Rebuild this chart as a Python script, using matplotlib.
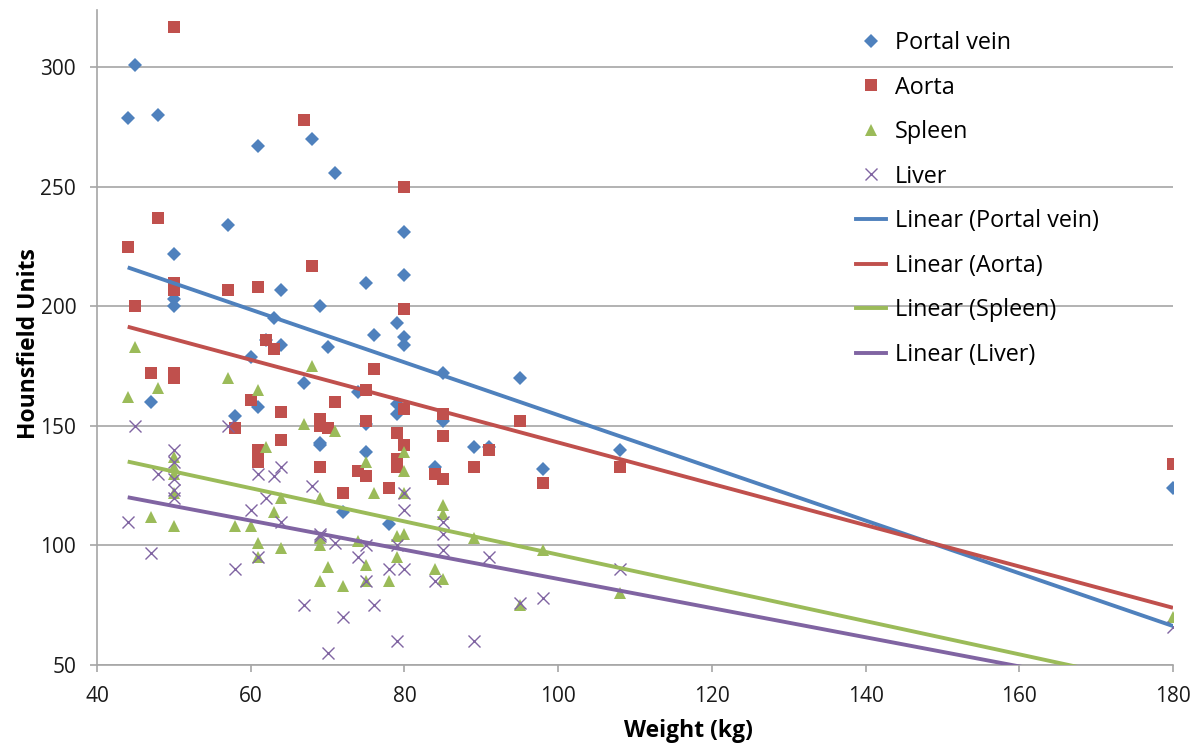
import numpy as np
import matplotlib
matplotlib.use("Agg")
import matplotlib.pyplot as plt
from matplotlib.lines import Line2D

plt.rcParams['font.family'] = ['Open Sans', 'DejaVu Sans']

# ---- data (weight kg, Hounsfield units) ----
portal_x = [44, 45, 48, 47, 50, 50, 50, 57, 58, 60, 61, 61, 62, 63, 64, 64,
            67, 68, 69, 69, 69, 70, 71, 72, 74, 75, 75, 75, 76, 78, 79, 79, 79,
            80, 80, 80, 80, 84, 85, 85, 89, 91, 95, 98, 108, 180]
portal_y = [279, 301, 280, 160, 222, 203, 200, 234, 154, 179, 267, 158, 186, 195, 207, 184,
            168, 270, 200, 143, 142, 183, 256, 114, 164, 210, 139, 151, 188, 109, 193, 159, 155,
            231, 213, 187, 184, 133, 172, 152, 141, 141, 170, 132, 140, 124]

aorta_x = [44, 45, 47, 48, 50, 50, 50, 50, 50, 57, 58, 60, 61, 61, 61, 62, 63, 64, 64,
           67, 68, 69, 69, 69, 70, 71, 72, 74, 75, 75, 75, 76, 78, 79, 79, 79,
           80, 80, 80, 80, 84, 85, 85, 85, 89, 91, 95, 98, 108, 180]
aorta_y = [225, 200, 172, 237, 317, 210, 207, 172, 170, 207, 149, 161, 208, 140, 135, 186, 182, 156, 144,
           278, 217, 153, 150, 133, 149, 160, 122, 131, 165, 152, 129, 174, 124, 147, 136, 133,
           250, 199, 157, 142, 130, 155, 146, 128, 133, 140, 152, 126, 133, 134]

spleen_x = [44, 45, 47, 48, 50, 50, 50, 50, 50, 57, 58, 60, 61, 61, 61, 62, 63, 64, 64,
            67, 68, 69, 69, 69, 69, 70, 71, 72, 74, 75, 75, 75, 76, 78, 79, 79,
            80, 80, 80, 80, 84, 85, 85, 85, 89, 95, 98, 108, 180]
spleen_y = [162, 183, 112, 166, 137, 133, 130, 122, 108, 170, 108, 108, 165, 101, 95, 141, 114, 120, 99,
            151, 175, 120, 103, 100, 85, 91, 148, 83, 102, 135, 92, 85, 122, 85, 104, 95,
            139, 131, 122, 105, 90, 117, 113, 86, 103, 75, 98, 80, 70]

liver_x = [44, 45, 47, 48, 50, 50, 50, 50, 50, 57, 58, 60, 61, 61, 62, 63, 64, 64,
           67, 68, 69, 69, 70, 71, 72, 74, 75, 75, 76, 78, 79, 79,
           80, 80, 80, 84, 85, 85, 85, 89, 91, 95, 98, 108, 180]
liver_y = [110, 150, 97, 130, 140, 135, 128, 123, 120, 150, 90, 115, 130, 95, 120, 129, 133, 110,
           75, 125, 105, 104, 55, 101, 70, 95, 85, 100, 75, 90, 100, 60,
           122, 115, 90, 85, 110, 105, 98, 60, 95, 76, 78, 90, 66]

series_names = ["Portal vein", "Aorta", "Spleen", "Liver"]
colors = ["#4F81BD", "#C0504D", "#9BBB59", "#8064A2"]
markers = ["D", "s", "^", "x"]
msizes = [7.5, 8, 8.5, 9]

xs = [portal_x, aorta_x, spleen_x, liver_x]
ys = [portal_y, aorta_y, spleen_y, liver_y]

fig = plt.figure(figsize=(12, 7.47), dpi=100)
ax = fig.add_axes([0.0808, 0.1098, 0.8967, 0.8768])

for x, y, c, m, s in zip(xs, ys, colors, markers, msizes):
    if m == "x":
        ax.plot(x, y, ls="none", marker=m, color=c, markersize=s, mew=1.0, zorder=3)
    else:
        ax.plot(x, y, ls="none", marker=m, color=c, markersize=s, mew=0, zorder=3)

for x, y, c in zip(xs, ys, colors):
    x = np.asarray(x, float); y = np.asarray(y, float)
    k, b = np.polyfit(x, y, 1)
    xx = np.array([x.min(), x.max()])
    ax.plot(xx, k * xx + b, color=c, lw=2.8, zorder=4, solid_capstyle="butt")

ax.set_xlim(40, 180)
ax.set_ylim(50, 324)
ax.set_xticks(np.arange(40, 181, 20))
ax.set_yticks(np.arange(50, 301, 50))
ax.yaxis.grid(True, color="#A6A6A6", lw=1.2)
ax.set_axisbelow(True)
for sp in ["top", "right"]:
    ax.spines[sp].set_visible(False)
for sp in ["left", "bottom"]:
    ax.spines[sp].set_color("#A6A6A6")
    ax.spines[sp].set_linewidth(1.2)
ax.tick_params(axis="both", direction="out", length=5, color="#A6A6A6", width=1.2,
               labelsize=15, labelcolor="#1a1a1a")
ax.tick_params(axis="x", pad=10)
ax.tick_params(axis="y", pad=10)
ax.set_xlabel("Weight (kg)", fontsize=16.5, fontweight="bold")
ax.set_ylabel("Hounsfield Units", fontsize=16.5, fontweight="bold")
ax.xaxis.set_label_coords(0.55, -0.083)
ax.yaxis.set_label_coords(-0.052, 0.49)

handles = []
for n, c, m, s in zip(series_names, colors, markers, msizes):
    handles.append(Line2D([], [], ls="none", marker=m, color=c, markersize=s,
                          mew=1.0 if m == "x" else 0, label=n))
for n, c in zip(series_names, colors):
    handles.append(Line2D([], [], color=c, lw=2.8, label=f"Linear ({n})"))
leg = ax.legend(handles=handles, loc="upper left", bbox_to_anchor=(0.686, 1.0),
                frameon=False, fontsize=16.8, labelspacing=0.88, handlelength=1.3,
                handletextpad=0.35)

fig.savefig("out.png", dpi=100)
